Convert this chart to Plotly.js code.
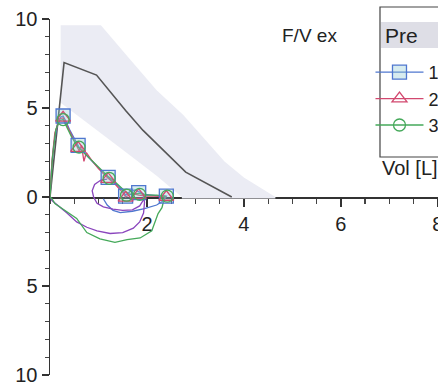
<!DOCTYPE html>
<html>
<head>
<meta charset="utf-8">
<script src="https://cdn.plot.ly/plotly-3.0.1.min.js"></script>
<style>html,body{margin:0;padding:0;background:#fff;}#chart{width:438px;height:388px;}</style>
</head>
<body>
<div id="chart"></div>
<script>
// Predicted (reference) curve
const predVol  = [0, 0.29, 0.96, 1.56, 1.92, 2.8, 3.75];
const predFlow = [0, 7.55, 6.85, 4.86, 3.74, 1.4, 0];

// Normal range band (upper edge, then lower edge back)
const bandUpperVol  = [0.22, 1.05, 1.6, 2.2, 2.75, 3.2, 3.6, 4.0, 4.35, 4.65, 4.65];
const bandUpperFlow = [9.65, 9.65, 7.9, 6.0, 4.6, 3.2, 2.0, 1.1, 0.5, 0, -0.08];
const bandLowerVol  = [2.72, 2.72, 2.2, 1.5, 0.9, 0.22];
const bandLowerFlow = [-0.08, 0, 1.2, 2.65, 3.9, 5.3];

// Trial 1 (blue)
const t1Vol  = [0, 0.03, 0.08, 0.15, 0.22, 0.27, 0.32, 0.4, 0.5, 0.58, 0.62, 0.7, 0.8, 0.9, 1.0, 1.1, 1.2, 1.3, 1.4, 1.5, 1.56, 1.65, 1.75, 1.83, 1.95, 2.1, 2.25, 2.4, 2.35, 2.2, 1.95, 1.7, 1.45, 1.3, 1.18, 1.1];
const t1Flow = [0, 1.5, 3.0, 4.0, 4.5, 4.55, 4.3, 3.8, 3.3, 2.9, 2.7, 2.5, 2.2, 1.9, 1.6, 1.35, 1.1, 0.9, 0.65, 0.35, 0.1, 0.3, 0.4, 0.3, 0.15, 0.1, 0.05, 0.05, -0.2, -0.45, -0.65, -0.8, -0.88, -0.75, -0.45, -0.1];
const t1MarkVol  = [0.27, 0.58, 1.2, 1.56, 1.83, 2.4];
const t1MarkFlow = [4.55, 2.9, 1.1, 0.05, 0.25, 0.05];

// Trial 2 (red)
const t2Vol  = [0, 0.04, 0.1, 0.2, 0.27, 0.35, 0.45, 0.55, 0.6, 0.65, 0.7, 0.75, 0.85, 1.0, 1.2, 1.35, 1.5, 1.56, 1.7, 1.83, 2.0, 2.2, 2.4];
const t2Flow = [0, 2.0, 3.6, 4.4, 4.45, 4.0, 3.4, 2.9, 2.6, 2.9, 2.0, 2.5, 2.1, 1.6, 1.05, 0.7, 0.25, 0.0, 0.2, 0.1, 0.05, 0.05, 0.0];
const t2MarkVol  = [0.27, 0.58, 1.2, 1.56, 1.83, 2.4];
const t2MarkFlow = [4.45, 2.75, 1.0, -0.05, 0.1, 0.0];

// Trial 2 inspiratory part (purple)
const t2InVol  = [1.18, 1.05, 0.92, 0.87, 0.9, 0.97, 1.1, 1.3, 1.5, 1.7, 1.85, 1.92, 1.93, 1.95, 1.93, 1.85, 1.72, 1.5, 1.24, 0.97, 0.76, 0.55, 0.35, 0.17, 0.04, 0];
const t2InFlow = [1.0, 0.95, 0.7, 0.35, 0.0, -0.35, -0.55, -0.68, -0.75, -0.72, -0.5, -0.2, 0.05, -0.3, -0.9, -1.4, -1.75, -2.0, -2.05, -1.9, -1.7, -1.4, -0.9, -0.5, -0.2, 0];

// Trial 3 (green)
const t3Vol  = [0, 0.05, 0.12, 0.2, 0.27, 0.35, 0.45, 0.58, 0.75, 0.9, 1.05, 1.2, 1.3, 1.45, 1.56, 1.65, 1.83, 2.0, 2.2, 2.37, 2.31, 2.23, 2.1, 1.86, 1.59, 1.34, 1.03, 0.76, 0.55, 0.31, 0.1, 0.04, 0];
const t3Flow = [0, 2.2, 3.8, 4.3, 4.35, 3.9, 3.35, 2.8, 2.35, 1.95, 1.5, 1.15, 0.95, 0.6, 0.3, 0.15, 0.2, 0.1, 0.1, 0.05, -0.6, -0.93, -1.9, -2.3, -2.4, -2.55, -2.35, -2.0, -1.2, -0.76, -0.37, -0.1, 0];
const t3MarkVol  = [0.27, 0.6, 1.22, 1.58, 1.85, 2.42];
const t3MarkFlow = [4.35, 2.8, 1.05, 0.1, 0.15, 0.05];

const trialNames = ['1', '2', '3'];
const xTickVals = [2, 4, 6, 8];
const yTickVals = [-10, -5, 0, 5, 10];
const yTickText = ['10', '5', '0', '5', '10'];

const FONT = 'Liberation Sans, Arial, sans-serif';
const BLUE = '#4f77cf', RED = '#d2486f', GREEN = '#45a95a', PURPLE = '#8a45bd';

function sparse(a) { const out = []; a.forEach((v, i) => { if (i) out.push(null); out.push(v); }); return out; }

const traces = [
  { x: bandUpperVol.concat(bandLowerVol), y: bandUpperFlow.concat(bandLowerFlow), mode: 'lines', fill: 'toself',
    fillcolor: '#ebecf4', line: { width: 0 }, hoverinfo: 'skip', showlegend: false },
  { x: predVol, y: predFlow, mode: 'lines', line: { color: '#555', width: 1.6 }, showlegend: false },
  { x: t1Vol, y: t1Flow, mode: 'lines', line: { color: BLUE, width: 1.3 }, showlegend: false },
  { x: t2InVol, y: t2InFlow, mode: 'lines', line: { color: PURPLE, width: 1.3 }, showlegend: false },
  { x: t2Vol, y: t2Flow, mode: 'lines', line: { color: RED, width: 1.3 }, showlegend: false },
  { x: t3Vol, y: t3Flow, mode: 'lines', line: { color: GREEN, width: 1.3 }, showlegend: false },
  { x: sparse(t1MarkVol), y: sparse(t1MarkFlow), mode: 'lines+markers', name: trialNames[0], connectgaps: false,
    line: { color: BLUE, width: 1.3 }, marker: { symbol: 'square', size: 14, color: 'rgba(140,200,210,0.35)', line: { color: BLUE, width: 1.3 } } },
  { x: sparse(t2MarkVol), y: sparse(t2MarkFlow), mode: 'lines+markers', name: trialNames[1], connectgaps: false,
    line: { color: RED, width: 1.3 }, marker: { symbol: 'triangle-up-open', size: 13, color: RED, line: { width: 1.3 } } },
  { x: sparse(t3MarkVol), y: sparse(t3MarkFlow), mode: 'lines+markers', name: trialNames[2], connectgaps: false,
    line: { color: GREEN, width: 1.3 }, marker: { symbol: 'circle-open', size: 12, color: GREEN, line: { width: 1.3 } } }
];

const layout = {
  width: 438, height: 388,
  margin: { l: 50, r: 0, t: 19, b: 13, autoexpand: false },
  paper_bgcolor: '#fff', plot_bgcolor: 'rgba(0,0,0,0)',
  font: { family: FONT, size: 20, color: '#222' },
  showlegend: true,
  legend: {
    x: 0.826, y: 0.9017, xanchor: 'left', yanchor: 'top',
    bgcolor: 'rgba(0,0,0,0)', borderwidth: 0,
    font: { size: 18, color: '#222' }, itemwidth: 48
  },
  xaxis: {
    range: [0, 8.005], anchor: 'free', position: 0.5, layer: 'below traces',
    showgrid: false, zeroline: false, showline: true, linecolor: '#333', linewidth: 1.5,
    tickmode: 'array', tickvals: xTickVals, ticks: 'outside', ticklen: 8, tickwidth: 1.5, tickcolor: '#333',
    ticklabelstandoff: 0, ticklabeloverflow: 'allow',
    minor: { dtick: 0.5, tick0: 0, ticks: 'outside', ticklen: 5, tickwidth: 1.2, tickcolor: '#444' },
    tickfont: { size: 20 }
  },
  yaxis: {
    range: [-10, 10], domain: [0, 1],
    showgrid: false, zeroline: false, showline: true, linecolor: '#333', linewidth: 1.5,
    tickmode: 'array', tickvals: yTickVals, ticktext: yTickText, ticks: 'outside', ticklen: 7, tickwidth: 1.5, tickcolor: '#333',
    minor: { dtick: 1, tick0: 0, ticks: 'outside', ticklen: 4, tickwidth: 1.2, tickcolor: '#444' },
    tickfont: { size: 20 }
  },
  shapes: [
    { type: 'rect', xref: 'paper', yref: 'paper', x0: 0.8530, x1: 1.05, y0: 0.9185, y1: 0.9916,
      fillcolor: '#dedee6', line: { width: 0 }, layer: 'above' },
    { type: 'rect', xref: 'paper', yref: 'paper', x0: 0.8505, x1: 1.05, y0: 0.6124, y1: 1.0337,
      fillcolor: 'rgba(0,0,0,0)', line: { color: '#444', width: 1.2 }, layer: 'above' }
  ],
  annotations: [
    { text: 'Pre', xref: 'paper', yref: 'paper', x: 0.858, y: 0.955, xanchor: 'left', yanchor: 'middle',
      showarrow: false, font: { size: 21, color: '#222' } },
    { text: 'F/V ex', xref: 'paper', yref: 'paper', x: 0.67, y: 0.955, xanchor: 'center', yanchor: 'middle',
      showarrow: false, font: { size: 19, color: '#222' } },
    { text: 'Vol [L]', xref: 'paper', yref: 'paper', x: 0.8505, y: 0.581, xanchor: 'left', yanchor: 'middle',
      showarrow: false, font: { size: 20, color: '#222' } }
  ]
};

Plotly.newPlot('chart', traces, layout, { displayModeBar: false, staticPlot: true });
</script>
</body>
</html>
